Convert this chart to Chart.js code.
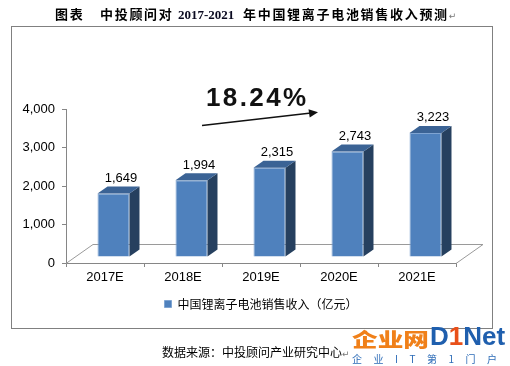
<!DOCTYPE html>
<html>
<head>
<meta charset="utf-8">
<script src="https://cdn.jsdelivr.net/npm/chart.js@4.4.1/dist/chart.umd.min.js"></script>
<style>
  html, body { margin:0; padding:0; background:#fff; }
  body { width:510px; height:366px; position:relative; overflow:hidden; font-family:"Noto Sans CJK SC", sans-serif; }
  #frame { position:absolute; left:11px; top:26px; width:480px; height:301px; border:1px solid #808080; }
  #wrap { position:absolute; left:0; top:0; width:510px; height:366px; }
  .t { position:absolute; white-space:nowrap; line-height:1; }
  .title { top:7px; font-size:13px; font-weight:bold; letter-spacing:1.7px; color:#000; }
  .num { font-family:"Liberation Serif", serif; font-weight:bold; letter-spacing:0; color:#0a0a20; font-size:13px; top:8px; }
  .para { font-family:"DejaVu Sans", sans-serif; font-size:9px; color:#777; font-weight:normal; letter-spacing:0; }
  #growth { left:206px; top:84px; font-family:"Liberation Sans", Arial, sans-serif; font-size:26px; font-weight:bold; letter-spacing:2.4px; color:#111; }
  #source { left:162px; top:346px; font-size:12px; color:#000; }
  #logo1 { left:352px; top:329px; font-size:19px; font-weight:900; color:#F08019; transform:scaleX(1.35); transform-origin:left top; }
  #logo2 { left:430px; top:323px; font-family:"Liberation Sans", Arial, sans-serif; font-size:26px; font-weight:bold; color:#1F5FAE; }
  #logo2 .one { color:#E8501A; }
  #logo3 { left:352px; top:354px; font-size:10px; color:#2E6DB8; letter-spacing:11.5px; }
</style>
</head>
<body>
<div id="frame"></div>
<div id="wrap"><canvas id="c" width="510" height="366"></canvas></div>

<div class="t title" style="left:55px">图表</div>
<div class="t title" style="left:100px">中投顾问对</div>
<div class="t num" style="left:178px">2017-2021</div>
<div class="t title" style="left:243px">年中国锂离子电池销售收入预测<span class="para">↵</span></div>

<div class="t" id="growth">18.24%</div>
<svg style="position:absolute;left:0;top:0" width="510" height="366">
  <line x1="202" y1="125.5" x2="311" y2="113" stroke="#111" stroke-width="1.5"/>
  <polygon points="318,112.2 308.5,109.3 309.7,117.5" fill="#111"/>
</svg>

<div class="t" id="source">数据来源：中投顾问产业研究中心<span class="para">↵</span></div>
<div class="t" id="logo1">企业网</div>
<div class="t" id="logo2">D<span class="one">1</span>Net</div>
<div class="t" id="logo3">企业IT第1门户</div>

<script>
const categories = ['2017E', '2018E', '2019E', '2020E', '2021E'];
const revenue = [1649, 1994, 2315, 2743, 3223];
const yTicks = [0, 1000, 2000, 3000, 4000];
const seriesName = '中国锂离子电池销售收入（亿元）';

const FRONT = '#4F81BD', SIDE = '#26405F', TOP = '#3B6395';
const SHIFT = { x: 8.5, y: -6 };      // bar position inside the floor depth
const BAR_D = { x: 10, y: -7 };       // bar depth
const FLOOR_D = { x: 27, y: -19 };    // floor depth

const fmt = v => v.toLocaleString('en-US');

const threeD = {
  id: 'threeD',
  beforeDatasetsDraw(chart) {
    const { ctx, chartArea: { left, right, bottom } } = chart;
    ctx.save();
    ctx.strokeStyle = '#9a9a9a';
    ctx.lineWidth = 1;
    ctx.beginPath();
    ctx.moveTo(left, bottom + 0.5);
    ctx.lineTo(left + FLOOR_D.x, bottom + FLOOR_D.y + 0.5);
    ctx.lineTo(right + FLOOR_D.x, bottom + FLOOR_D.y + 0.5);
    ctx.lineTo(right, bottom + 0.5);
    ctx.stroke();
    ctx.restore();
    ctx.save();
    ctx.translate(SHIFT.x, SHIFT.y);
  },
  afterDatasetsDraw(chart) {
    const ctx = chart.ctx;
    const meta = chart.getDatasetMeta(0);
    meta.data.forEach(bar => {
      const { x, y, base, width } = bar.getProps(['x', 'y', 'base', 'width'], true);
      const l = x - width / 2, r = x + width / 2;
      ctx.fillStyle = SIDE;
      ctx.beginPath();
      ctx.moveTo(r, y); ctx.lineTo(r + BAR_D.x, y + BAR_D.y);
      ctx.lineTo(r + BAR_D.x, base + BAR_D.y); ctx.lineTo(r, base);
      ctx.closePath(); ctx.fill();
      ctx.fillStyle = TOP;
      ctx.beginPath();
      ctx.moveTo(l, y); ctx.lineTo(l + BAR_D.x, y + BAR_D.y);
      ctx.lineTo(r + BAR_D.x, y + BAR_D.y); ctx.lineTo(r, y);
      ctx.closePath(); ctx.fill();
    });
    ctx.restore();
    ctx.save();
    ctx.fillStyle = '#000';
    ctx.font = '13px "Liberation Sans", Arial, sans-serif';
    ctx.textAlign = 'center';
    ctx.textBaseline = 'middle';
    meta.data.forEach((bar, i) => {
      const { x, y } = bar.getProps(['x', 'y'], true);
      ctx.fillText(fmt(revenue[i]), x + 16, y - 21);
    });
    ctx.restore();
  }
};

new Chart(document.getElementById('c'), {
  type: 'bar',
  data: {
    labels: categories,
    datasets: [{
      label: seriesName,
      data: revenue,
      backgroundColor: FRONT,
      borderColor: '#7FA4D2',
      borderWidth: 1,
      barPercentage: 0.41,
      categoryPercentage: 1.0
    }]
  },
  options: {
    responsive: false,
    animation: false,
    events: [],
    layout: { padding: { left: 11, right: 54, top: 109, bottom: 46 } },
    plugins: {
      legend: {
        position: 'bottom',
        fullSize: false,
        labels: {
          boxWidth: 7, boxHeight: 7, padding: 7,
          color: '#000',
          font: { family: '"Noto Sans CJK SC", sans-serif', size: 12 }
        }
      },
      tooltip: { enabled: false },
      title: { display: false }
    },
    scales: {
      x: {
        grid: { display: true, drawOnChartArea: false, tickLength: 4, color: '#868686' },
        border: { color: '#868686' },
        ticks: { color: '#000', padding: 3, font: { family: '"Liberation Sans", Arial, sans-serif', size: 13 } },
        afterFit(s) { s.height = 28; }
      },
      y: {
        min: 0, max: 4000,
        afterBuildTicks(s) { s.ticks = yTicks.map(v => ({ value: v })); },
        grid: { display: true, drawOnChartArea: false, tickLength: 4, color: '#868686' },
        border: { color: '#868686' },
        ticks: { color: '#000', padding: 7, callback: v => fmt(v), font: { family: '"Liberation Sans", Arial, sans-serif', size: 13 } },
        afterFit(s) { s.width = 55; }
      }
    }
  },
  plugins: [threeD]
});
</script>
</body>
</html>
